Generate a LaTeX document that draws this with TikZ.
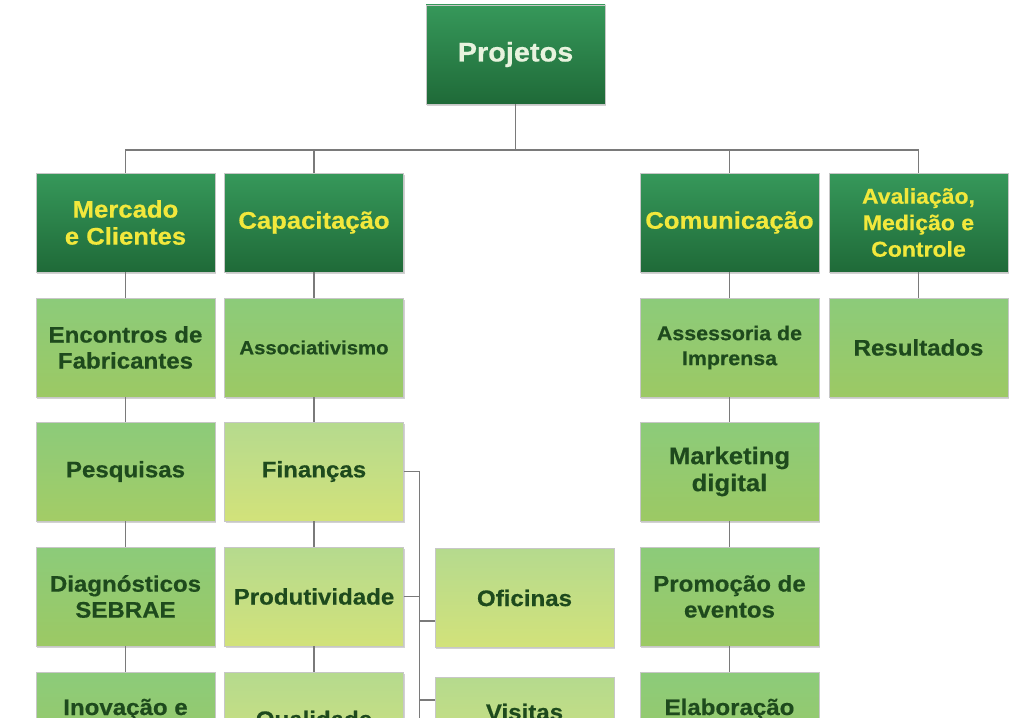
\documentclass[tikz,border=0pt]{standalone}
\usepackage{fontspec}
\newfontfamily\lab[FakeStretch=1.07, BoldFeatures={FakeBold=0.5}]{Liberation Sans}
\usetikzlibrary{shadows}
\definecolor{dkT}{HTML}{36985A}
\definecolor{dkB}{HTML}{1F6A38}
\definecolor{gT}{HTML}{8CCB7A}
\definecolor{gB}{HTML}{9CC964}
\definecolor{gBy}{HTML}{A3CC66}
\definecolor{lT}{HTML}{B5DA8E}
\definecolor{lB}{HTML}{D2E27A}
\definecolor{yel}{HTML}{F2E83C}
\definecolor{pale}{HTML}{E8F3DE}
\definecolor{txt}{HTML}{1E4A1D}
\definecolor{ln}{HTML}{7A7A7A}
\tikzset{
  box/.style={minimum width=179pt, minimum height=99pt, inner sep=2pt, align=center,
    shading=axis, draw=black!22, line width=0.4pt,
    drop shadow={shadow xshift=1.2pt, shadow yshift=-1.6pt, opacity=0.35}},
  topbox/.style={box, top color=dkT, bottom color=dkB, text=yel,
    font=\lab\bfseries\fontsize{24}{27}\selectfont},
  grnbox/.style={box, top color=gT, bottom color=gB, text=txt,
    font=\lab\bfseries\fontsize{22.5}{26}\selectfont},
  limebox/.style={box, top color=lT, bottom color=lB, text=txt,
    font=\lab\bfseries\fontsize{22.5}{26}\selectfont},
  cuttext/.style={anchor=base, text=txt, font=\lab\bfseries\fontsize{22.5}{26}\selectfont},
  conn/.style={draw=ln, line width=1.1pt}
}
\begin{document}
\begin{tikzpicture}[x=1pt, y=-1pt]
\useasboundingbox (0,0) rectangle (1019,717);
\clip (0,0) rectangle (1019,717);
\fill[white] (0,0) rectangle (1019,717);
\coordinate (bus) at (514,150);
% top
\node[topbox, text=pale, font=\lab\bfseries\fontsize{27}{30}\selectfont] (proj) at (515.5,54.5) {Projetos};
% level 1
\node[topbox] (c1) at (125.5,222.5) {Mercado\\e Clientes};
\node[topbox] (c2) at (314,222.5) {Capacita\c{c}\~ao};
\node[topbox] (c3) at (729.5,222.5) {Comunica\c{c}\~ao};
\node[topbox, font=\lab\bfseries\fontsize{21.5}{26.5}\selectfont] (c4) at (918.5,222.5) {Avalia\c{c}\~ao,\\Medi\c{c}\~ao e\\Controle};
% column 1
\node[grnbox] (a2) at (125.5,347.5) {Encontros de\\Fabricantes};
\node[grnbox, bottom color=gBy] (a3) at (125.5,471.5) {Pesquisas};
\node[grnbox] (a4) at (125.5,596.5) {Diagn\'osticos\\SEBRAE};
\node[grnbox] (a5) at (125.5,721.5) {};
\node[cuttext] (a5t) at (125.5,715) {Inova\c{c}\~ao e};
% column 2
\node[grnbox, font=\lab\bfseries\fontsize{19}{23}\selectfont] (b2) at (314,347.5) {Associativismo};
\node[limebox] (b3) at (314,471.5) {Finan\c{c}as};
\node[limebox] (b4) at (314,596.5) {Produtividade};
\node[limebox] (b5) at (314,721.5) {};
\node[cuttext] (b5t) at (314,727) {Qualidade};
% side column
\node[limebox] (o1) at (524.5,598) {Oficinas};
\node[limebox] (o2) at (524.5,727) {};
\node[cuttext] (o2t) at (524.5,720) {Visitas};
% column 3
\node[grnbox, font=\lab\bfseries\fontsize{20}{25}\selectfont] (d2) at (729.5,347.5) {Assessoria de\\Imprensa};
\node[grnbox, font=\lab\bfseries\fontsize{24}{27}\selectfont] (d3) at (729.5,471.5) {Marketing\\digital};
\node[grnbox] (d4) at (729.5,596.5) {Promo\c{c}\~ao de\\eventos};
\node[grnbox] (d5) at (729.5,721.5) {};
\node[cuttext] (d5t) at (729.5,715) {Elabora\c{c}\~ao};
% column 4
\node[grnbox] (e2) at (918.5,347.5) {Resultados};
% connectors
\coordinate (brk) at ([xshift=16pt]b3.east);
\draw[conn] (proj.south) -- (proj.south |- bus);
\draw[conn] (c1.north) -- (c1.north |- bus) -- (c4.north |- bus) -- (c4.north);
\draw[conn] (c2.north) -- (c2.north |- bus);
\draw[conn] (c3.north) -- (c3.north |- bus);
\draw[conn] (c1.south) -- (a2.north);
\draw[conn] (a2.south) -- (a3.north);
\draw[conn] (a3.south) -- (a4.north);
\draw[conn] (a4.south) -- (a5.north);
\draw[conn] (c2.south) -- (b2.north);
\draw[conn] (b2.south) -- (b3.north);
\draw[conn] (b3.south) -- (b4.north);
\draw[conn] (b4.south) -- (b5.north);
\draw[conn] (c3.south) -- (d2.north);
\draw[conn] (d2.south) -- (d3.north);
\draw[conn] (d3.south) -- (d4.north);
\draw[conn] (d4.south) -- (d5.north);
\draw[conn] (c4.south) -- (e2.north);
\draw[conn] (b3.east) -- (brk) -- (brk |- 0,760);
\draw[conn] (b4.east) -- (b4.east -| brk);
\draw[conn] (brk |- 0,621) -- (o1.west |- 0,621);
\draw[conn] (brk |- 0,700) -- (o2.west |- 0,700);
\draw[conn] (b5.east) -- (b5.east -| brk);
\end{tikzpicture}
\end{document}
